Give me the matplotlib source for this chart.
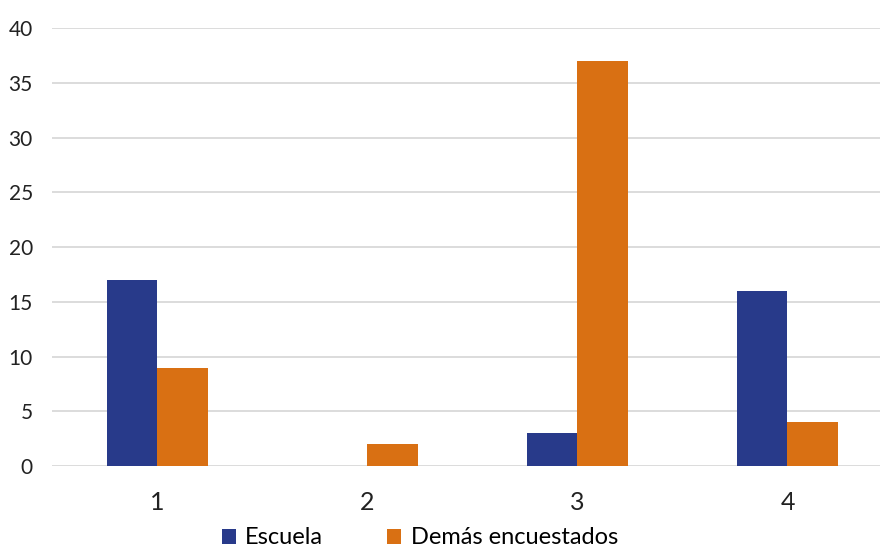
import matplotlib
matplotlib.use("Agg")
from matplotlib import pyplot as plt
import numpy as np

plt.rcParams['font.family'] = ['Lato', 'DejaVu Sans']

categorias = ["1", "2", "3", "4"]
escuela = [17, 0, 3, 16]
demas = [9, 2, 37, 4]
y_ticks = [0, 5, 10, 15, 20, 25, 30, 35, 40]

azul = "#283a8a"
naranja = "#d97013"

fig = plt.figure(figsize=(8.87, 5.51), dpi=100)
ax = fig.add_axes([0.059, 0.154, 0.933, 0.795])

x = np.arange(1, len(categorias) + 1)
w = 0.24
ax.bar(x - w / 2, escuela, w, color=azul, label="Escuela", zorder=3)
ax.bar(x + w / 2, demas, w, color=naranja, label="Demás encuestados", zorder=3)

ax.set_xlim(0.5, 4.44)
ax.set_ylim(0, 40)
ax.set_yticks(y_ticks)
ax.set_xticks(x)
ax.set_xticklabels(categorias, fontsize=18)
ax.tick_params(axis='y', labelsize=15, length=0, pad=14, colors="#222222")
ax.tick_params(axis='x', length=0, pad=18, colors="#222222")
ax.grid(axis='y', color="#d9d9d9", linewidth=1.3, zorder=0)
for s in ax.spines.values():
    s.set_visible(False)

ax.legend(loc='upper center', bbox_to_anchor=(0.444, -0.113), ncol=2, frameon=False,
          fontsize=17, handlelength=0.6, handleheight=0.6, columnspacing=2.7,
          handletextpad=0.4, borderpad=0)

fig.savefig("out.png", dpi=100)
